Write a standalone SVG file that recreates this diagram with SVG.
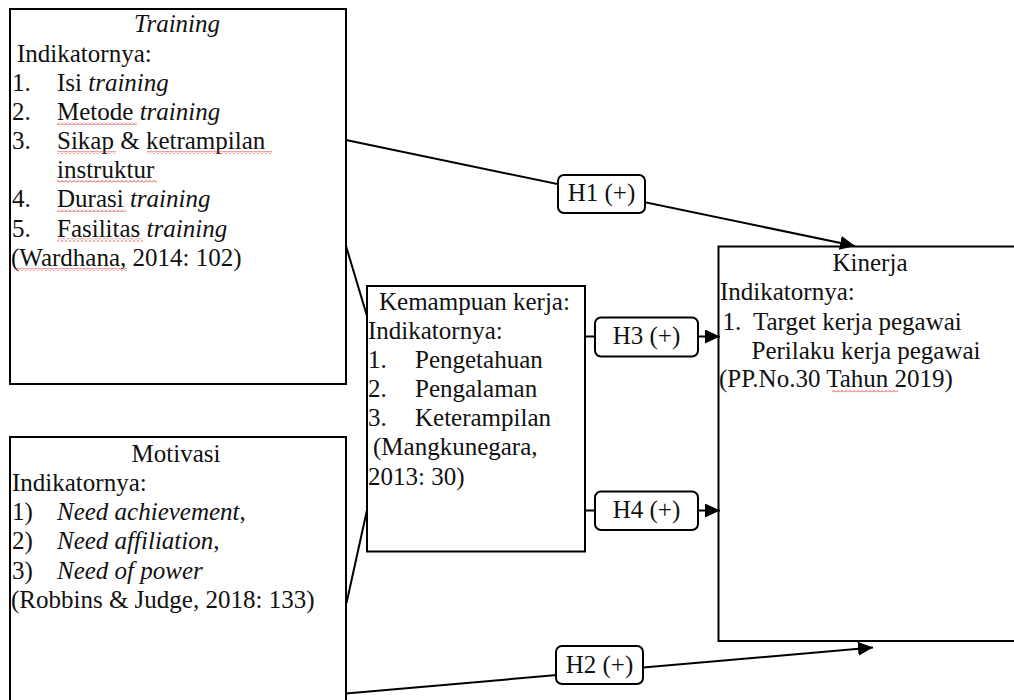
<svg xmlns="http://www.w3.org/2000/svg" width="1014" height="700" viewBox="0 0 1014 700">
<style>
  .box { fill: #ffffff; stroke: #000000; stroke-width: 2; }
  .lbl { fill: #ffffff; stroke: #000000; stroke-width: 2; }
  .t { font-family: "Liberation Serif", "Times New Roman", serif; font-size: 25px; fill: #111111; }
  .i { font-style: italic; }
  .c { text-anchor: middle; }
  .line { stroke: #000000; stroke-width: 2; fill: none; }
  .sq { fill: url(#squiggle); }
</style>
<defs>
  <marker id="arrow" markerUnits="userSpaceOnUse" markerWidth="15" markerHeight="14" refX="15" refY="7" orient="auto">
    <path d="M0,0 L15,7 L0,14 z" fill="#000000"/>
  </marker>
  <pattern id="squiggle" patternUnits="userSpaceOnUse" width="4" height="3">
    <path d="M0,2.5 L2,0.5 L4,2.5" fill="none" stroke="#e03030" stroke-width="0.9"/>
  </pattern>
</defs>

<g id="training">
  <rect class="box" x="10" y="9" width="336" height="375"/>
  <text class="t i c" x="177" y="32">Training</text>
  <text class="t" x="17" y="61.5">Indikatornya:</text>
  <text class="t" x="12" y="90.5">1.</text><text class="t" x="57" y="90.5">Isi <tspan class="i">training</tspan></text>
  <text class="t" x="12" y="120">2.</text><text class="t" x="57" y="120">Metode <tspan class="i">training</tspan></text>
  <text class="t" x="12" y="149">3.</text><text class="t" x="57" y="149">Sikap &amp; ketrampilan</text>
  <text class="t" x="57" y="178">instruktur</text>
  <text class="t" x="12" y="207">4.</text><text class="t" x="57" y="207">Durasi <tspan class="i">training</tspan></text>
  <text class="t" x="12" y="236.5">5.</text><text class="t" x="57" y="236.5">Fasilitas <tspan class="i">training</tspan></text>
  <text class="t" x="11" y="265.5">(Wardhana, 2014: 102)</text>
  <rect class="sq" x="57" y="122" width="80" height="3"/>
  <rect class="sq" x="57" y="151" width="59" height="3"/>
  <rect class="sq" x="147" y="151" width="125" height="3"/>
  <rect class="sq" x="57" y="180" width="100" height="3"/>
  <rect class="sq" x="57" y="209" width="69" height="3"/>
  <rect class="sq" x="57" y="238.5" width="86" height="3"/>
  <rect class="sq" x="14" y="268" width="113" height="3"/>
</g>

<g id="motivasi">
  <rect class="box" x="10" y="437" width="336" height="290"/>
  <text class="t c" x="176" y="462">Motivasi</text>
  <text class="t" x="12" y="491">Indikatornya:</text>
  <text class="t" x="12" y="520">1)</text><text class="t" x="57" y="520"><tspan class="i">Need achievement</tspan>,</text>
  <text class="t" x="12" y="549">2)</text><text class="t" x="57" y="549"><tspan class="i">Need affiliation</tspan>,</text>
  <text class="t" x="12" y="578.5">3)</text><text class="t" x="57" y="578.5"><tspan class="i">Need of power</tspan></text>
  <text class="t" x="11" y="607.5">(Robbins &amp; Judge, 2018: 133)</text>
</g>

<g id="kemampuan">
  <rect class="box" x="367" y="286" width="218" height="265.5"/>
  <text class="t" x="379" y="310">Kemampuan kerja:</text>
  <text class="t" x="368" y="338.5">Indikatornya:</text>
  <text class="t" x="368" y="367.5">1.</text><text class="t" x="415" y="367.5">Pengetahuan</text>
  <text class="t" x="368" y="396.5">2.</text><text class="t" x="415" y="396.5">Pengalaman</text>
  <text class="t" x="368" y="426">3.</text><text class="t" x="415" y="426">Keterampilan</text>
  <text class="t" x="373" y="455">(Mangkunegara,</text>
  <text class="t" x="368" y="484.5">2013: 30)</text>
</g>

<g id="kinerja">
  <rect class="box" x="718.5" y="246.5" width="310" height="394.5"/>
  <text class="t c" x="870" y="270.5">Kinerja</text>
  <text class="t" x="720" y="300">Indikatornya:</text>
  <text class="t" x="722.5" y="329.5">1.</text><text class="t" x="753" y="329.5">Target kerja pegawai</text>
  <text class="t" x="751.5" y="358.5">Perilaku kerja pegawai</text>
  <text class="t" x="719" y="387">(PP.No.30 Tahun 2019)</text>
  <rect class="sq" x="832" y="389.5" width="66" height="3"/>
</g>

<g id="connectors">
  <line class="line" x1="346" y1="140" x2="855" y2="246" marker-end="url(#arrow)"/>
  <line class="line" x1="346" y1="693.5" x2="873" y2="647.5" marker-end="url(#arrow)"/>
  <line class="line" x1="585" y1="336.5" x2="720" y2="336.5" marker-end="url(#arrow)"/>
  <line class="line" x1="585" y1="510.5" x2="720" y2="510.5" marker-end="url(#arrow)"/>
  <line class="line" x1="346" y1="246" x2="367" y2="316"/>
  <line class="line" x1="346.5" y1="603" x2="367" y2="510"/>
  <g id="label-h1">
    <rect class="lbl" x="558" y="175" width="87" height="38" rx="6"/>
    <text class="t c" x="601.5" y="201">H1 (+)</text>
  </g>
  <g id="label-h2">
    <rect class="lbl" x="556" y="646" width="87" height="38" rx="6"/>
    <text class="t c" x="599.5" y="672.5">H2 (+)</text>
  </g>
  <g id="label-h3">
    <rect class="lbl" x="595" y="317.5" width="103" height="39" rx="6"/>
    <text class="t c" x="646.5" y="343.5">H3 (+)</text>
  </g>
  <g id="label-h4">
    <rect class="lbl" x="595" y="491.5" width="103" height="38.5" rx="6"/>
    <text class="t c" x="646.5" y="517.5">H4 (+)</text>
  </g>
</g>
</svg>
